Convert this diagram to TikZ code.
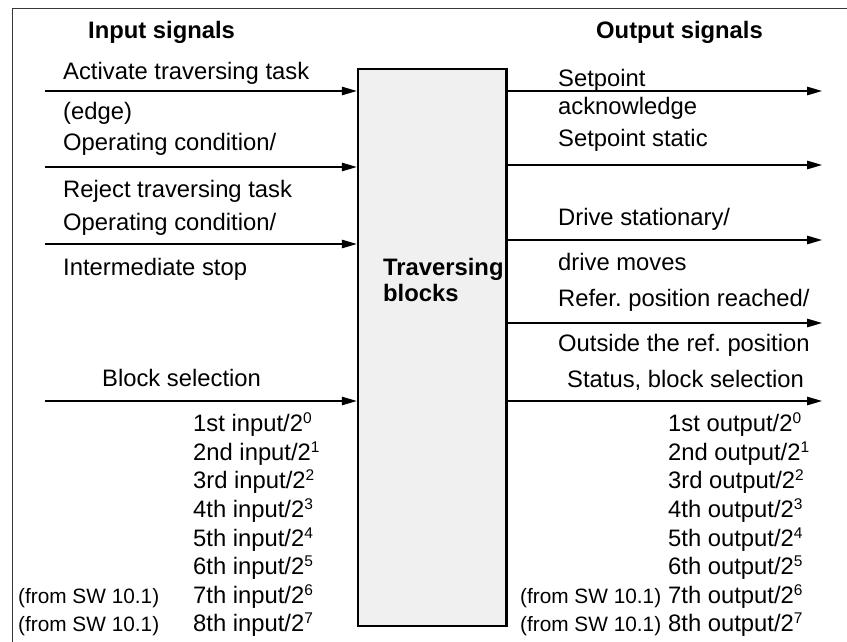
\documentclass[tikz,border=0pt]{standalone}
\usepackage{fontspec}
\setmainfont{Liberation Sans}
\usetikzlibrary{arrows.meta}
\definecolor{boxfill}{RGB}{240,240,240}
\definecolor{framecol}{RGB}{55,55,55}
\newcommand\supx[1]{\raisebox{8pt}{\fontsize{15.5}{15.5}\selectfont #1}}
\frenchspacing
\begin{document}
\begin{tikzpicture}[x=1pt,y=-1pt,
  txt/.style={inner sep=0pt, anchor=base west, font=\fontsize{23.8}{28}\selectfont},
  smalltxt/.style={txt, font=\fontsize{20.8}{25}\selectfont},
  head/.style={txt, font=\fontsize{23.8}{28}\selectfont\bfseries},
  sig/.style={line width=1.3pt, -{Triangle[length=15pt,width=8.5pt]}},
  blockbox/.style={draw, line width=2.5pt, fill=boxfill, minimum width=148.5pt, minimum height=557pt, inner sep=0pt},
  framerule/.style={draw=framecol, line width=1.5pt}]
\useasboundingbox (0,0) rectangle (847,642);
% outer frame
\draw[framerule] (12.5,642) -- (12.5,8.5) -- (847,8.5);
% central block
\node[blockbox] (tb) at (432.25,347.5) {};
\node[head] (tb1) at (383,275) {Traversing};
\node[head] (tb2) at (383,301.7) {blocks};
% headings
\node[head] (hin) at (88,39) {Input signals};
\node[head] (hout) at (596,39) {Output signals};
% input arrows
\coordinate (i1) at (45,91);
\coordinate (i2) at (45,167);
\coordinate (i3) at (45,244);
\coordinate (i4) at (45,401);
\foreach \c in {i1,i2,i3,i4} \draw[sig] (\c) -- (\c -| tb.west);
% output arrows
\coordinate (o1) at (822,91);
\coordinate (o2) at (822,165);
\coordinate (o3) at (822,240);
\coordinate (o4) at (822,323);
\coordinate (o5) at (822,401);
\foreach \c in {o1,o2,o3,o4,o5} \draw[sig] (\c -| tb.east) -- (\c);
% input texts
\node[txt] (t1) at (63,80) {Activate traversing task};
\node[txt] (t2) at (63,119.5) {(edge)};
\node[txt] (t3) at (63,150.7) {Operating condition/};
\node[txt] (t4) at (63,197.3) {Reject traversing task};
\node[txt] (t5) at (63,230) {Operating condition/};
\node[txt] (t6) at (63,275) {Intermediate stop};
\node[txt] (t7) at (102,386.7) {Block selection};
% output texts
\node[txt] (u1) at (558,86.7) {Setpoint};
\node[txt] (u2) at (558,114.3) {acknowledge};
\node[txt] (u3) at (558,146.7) {Setpoint static};
\node[txt] (u4) at (558,225) {Drive stationary/};
\node[txt] (u5) at (558,270) {drive moves};
\node[txt] (u6) at (558,306.7) {Refer. position reached/};
\node[txt] (u7) at (558,351.7) {Outside the ref. position};
\node[txt] (u8) at (567,387.7) {Status, block selection};
% bit lists
\node[txt] (a1) at (193,431.7) {1st input/2\supx{0}};
\node[txt] (a2) at (193,460.3) {2nd input/2\supx{1}};
\node[txt] (a3) at (193,488.8) {3rd input/2\supx{2}};
\node[txt] (a4) at (193,517.4) {4th input/2\supx{3}};
\node[txt] (a5) at (193,546.0) {5th input/2\supx{4}};
\node[txt] (a6) at (193,574.6) {6th input/2\supx{5}};
\node[txt] (a7) at (193,603.1) {7th input/2\supx{6}};
\node[txt] (a8) at (193,631.7) {8th input/2\supx{7}};
\node[smalltxt] (s1) at (18,603.1) {(from SW 10.1)};
\node[smalltxt] (s2) at (18,631.7) {(from SW 10.1)};
\node[txt] (b1) at (668,431.7) {1st output/2\supx{0}};
\node[txt] (b2) at (668,460.3) {2nd output/2\supx{1}};
\node[txt] (b3) at (668,488.8) {3rd output/2\supx{2}};
\node[txt] (b4) at (668,517.4) {4th output/2\supx{3}};
\node[txt] (b5) at (668,546.0) {5th output/2\supx{4}};
\node[txt] (b6) at (668,574.6) {6th output/2\supx{5}};
\node[txt] (b7) at (668,603.1) {7th output/2\supx{6}};
\node[txt] (b8) at (668,631.7) {8th output/2\supx{7}};
\node[smalltxt] (r1) at (520,603.1) {(from SW 10.1)};
\node[smalltxt] (r2) at (520,631.7) {(from SW 10.1)};
\end{tikzpicture}
\end{document}
